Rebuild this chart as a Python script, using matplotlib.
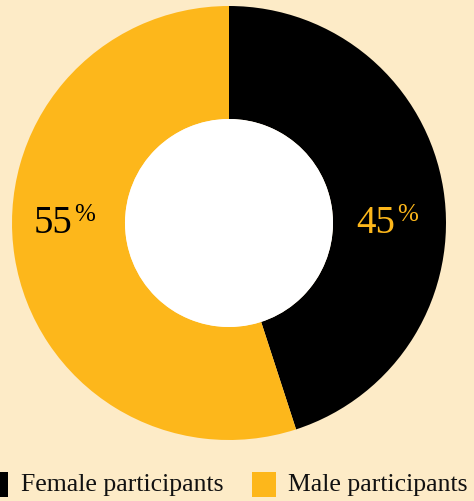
import matplotlib
matplotlib.use("Agg")
import matplotlib.pyplot as plt
from matplotlib.patches import Circle, Rectangle

categories = ["Female participants", "Male participants"]
values = [45, 55]
labels = ["45", "55"]

BG = "#FDEBC7"
ORANGE = "#FDB71B"
BLACK = "#000000"
colors = [BLACK, ORANGE]

W, H = 474, 502
fig = plt.figure(figsize=(W / 100, H / 100), dpi=100)
fig.patch.set_facecolor(BG)
plt.rcParams['font.family'] = ['Liberation Serif', 'DejaVu Serif']

cx, cy, R, r = 229, 224, 217, 104
ax = fig.add_axes([(cx - R) / W, (H - cy - R) / H, 2 * R / W, 2 * R / H])

ax.pie(values, colors=colors, startangle=90, counterclock=False, radius=1,
       wedgeprops=dict(width=1 - r / R, linewidth=0))
ax.set_xlim(-1, 1)
ax.set_ylim(-1, 1)
ax.set_aspect('equal')
ax.axis('off')
ax.add_patch(Circle((0, 0), r / R, facecolor='white', edgecolor='none', zorder=3))

def px(x):
    return (x - cx) / R

def py(y):
    return (cy - y) / R

# value labels
ax.text(px(395), py(233), labels[0], ha='right', va='baseline', fontsize=28, color=ORANGE, zorder=4)
ax.text(px(397), py(221), "%", ha='left', va='baseline', fontsize=18, color=ORANGE, zorder=4)
ax.text(px(72), py(233), labels[1], ha='right', va='baseline', fontsize=28, color=BLACK, zorder=4)
ax.text(px(74), py(221), "%", ha='left', va='baseline', fontsize=18, color=BLACK, zorder=4)

# legend
def fx(x):
    return x / W

def fy(y):
    return (H - y) / H

fig.patches.append(Rectangle((fx(-16), fy(498)), 24 / W, 25 / H, transform=fig.transFigure,
                             facecolor=colors[0], edgecolor='none'))
fig.patches.append(Rectangle((fx(252), fy(498)), 24 / W, 25 / H, transform=fig.transFigure,
                             facecolor=colors[1], edgecolor='none'))
fig.text(fx(21), fy(491), categories[0], ha='left', va='baseline', fontsize=18.5, color='#111111')
fig.text(fx(288), fy(491), categories[1], ha='left', va='baseline', fontsize=18.5, color='#111111')

fig.savefig("out.png", dpi=100, facecolor=BG)
